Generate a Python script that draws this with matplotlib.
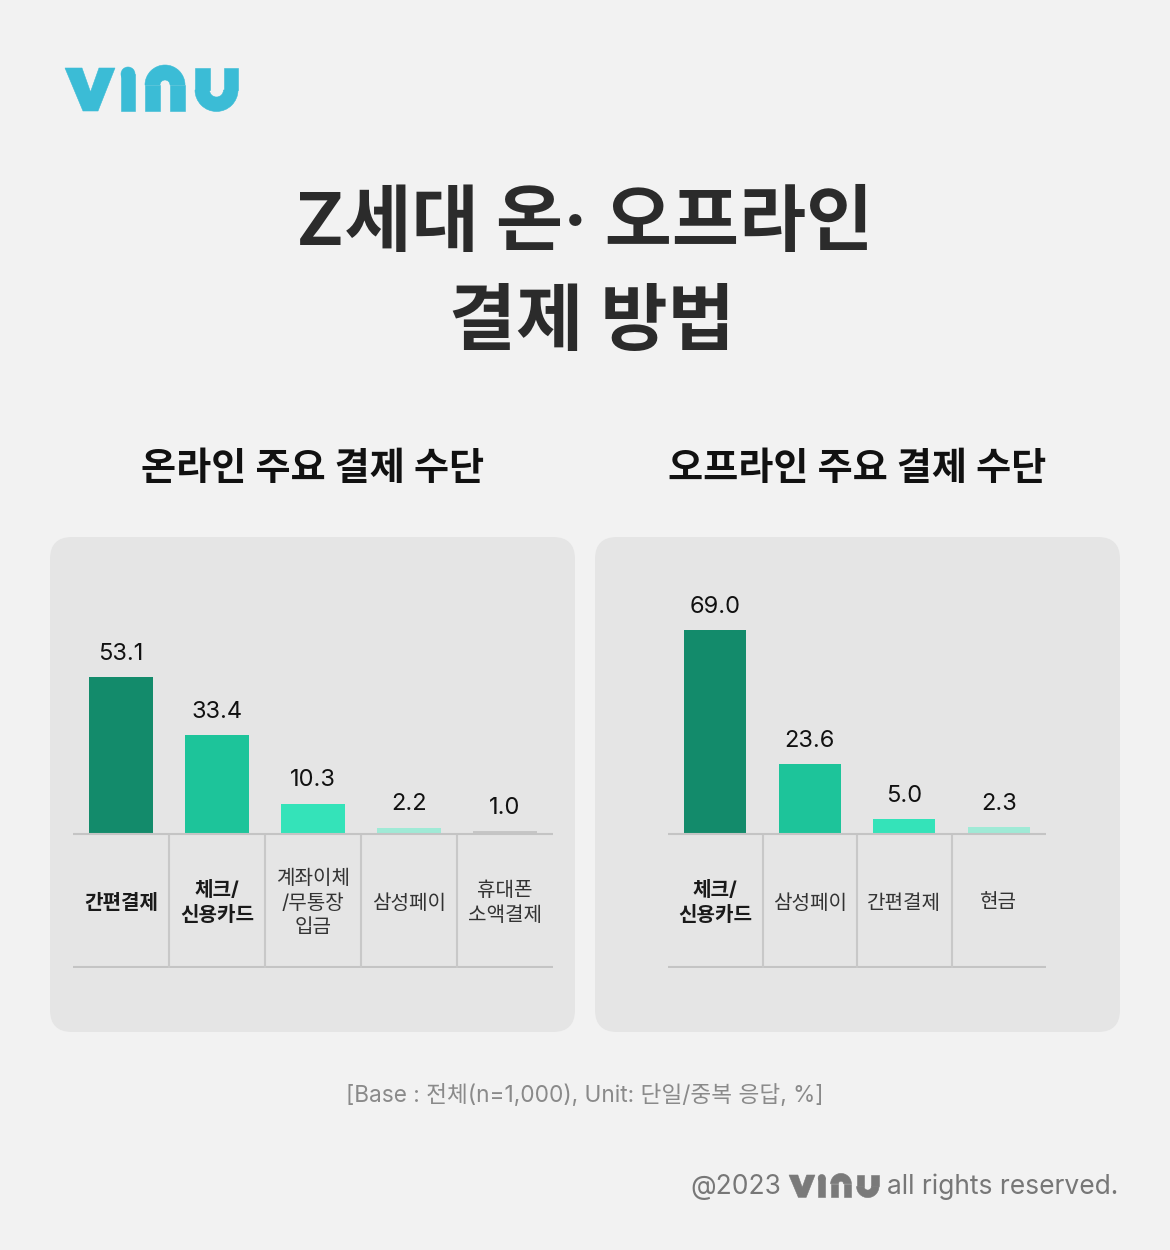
import matplotlib
matplotlib.use('Agg')
import matplotlib.pyplot as plt
from matplotlib.patches import FancyBboxPatch, Polygon, Rectangle, Wedge, Circle

plt.rcParams['font.family'] = ['Inter', 'Noto Sans CJK KR', 'DejaVu Sans']

# ---- data ----
title_lines = ['Z세대 온· 오프라인', '결제 방법']

online_title = '온라인 주요 결제 수단'
online_labels = ['간편결제', '체크/\n신용카드', '계좌이체\n/무통장\n입금', '삼성페이', '휴대폰\n소액결제']
online_values = [53.1, 33.4, 10.3, 2.2, 1.0]
online_bold = [True, True, False, False, False]
online_colors = ['#138b6b', '#1dc49a', '#34e3b9', '#a0ead6', '#c6c6c6']

offline_title = '오프라인 주요 결제 수단'
offline_labels = ['체크/\n신용카드', '삼성페이', '간편결제', '현금']
offline_values = [69.0, 23.6, 5.0, 2.3]
offline_bold = [True, False, False, False]
offline_colors = ['#138b6b', '#1dc49a', '#34e3b9', '#a0ead6']

note = '[Base : 전체(n=1,000), Unit: 단일/중복 응답, %]'
copy_left = '@2023'
copy_right = 'all rights reserved.'

W, H = 1170, 1250
BG = '#f2f2f2'
PANEL = '#e5e5e5'
SCALE = 2.95      # px per percent
BASE_Y = 834      # baseline pixel row
TABLE = 45        # table depth in data units
TOP = 80

fig = plt.figure(figsize=(W / 100, H / 100), dpi=100, facecolor=BG)
bg = fig.add_axes([0, 0, 1, 1])
bg.set_xlim(0, W)
bg.set_ylim(H, 0)
bg.axis('off')


def draw_logo(x0, y0, s, color):
    # wordmark built from simple shapes, unit box ~173 x 43 px
    def P(x, y):
        return (x0 + x * s, y0 + y * s)
    kw = dict(fc=color, ec=color, lw=0.4)
    # v
    bg.add_patch(Polygon([P(0, 0), P(17, 0), P(25.5, 24), P(34, 0), P(50, 0),
                          P(33, 43), P(18, 43)], **kw))
    # dotless i
    bg.add_patch(Rectangle(P(56, 6), 14 * s, 37 * s, **kw))
    bg.add_patch(Circle(P(63, 6), 7 * s, **kw))
    # n
    bg.add_patch(Wedge(P(100, 17), 20 * s, 180, 360, width=15 * s, **kw))
    bg.add_patch(Rectangle(P(80, 17), 15 * s, 26 * s, **kw))
    bg.add_patch(Rectangle(P(105, 17), 15 * s, 26 * s, **kw))
    # u
    bg.add_patch(Wedge(P(151.5, 22), 21.5 * s, 0, 180, width=14.5 * s, **kw))
    bg.add_patch(Rectangle(P(130, 0), 14.5 * s, 22 * s, **kw))
    bg.add_patch(Rectangle(P(158.5, 0), 14.5 * s, 22 * s, **kw))


draw_logo(65, 68, 1.0, '#3bbcd6')

# title
bg.text(585, 226, title_lines[0], fontsize=52.5, fontweight='bold', color='#2b2b2b',
        ha='center', va='center')
bg.text(592, 325, title_lines[1], fontsize=52.5, fontweight='bold', color='#2b2b2b',
        ha='center', va='center')


def panel(x0, x1, ax_l, ax_r, title, labels, values, colors, bold):
    bg.add_patch(FancyBboxPatch((x0, 537), x1 - x0, 495,
                                boxstyle='round,pad=0,rounding_size=22',
                                fc=PANEL, ec='none'))
    bg.text((x0 + x1) / 2, 470, title, fontsize=27.5, fontweight='bold',
            color='#111111', ha='center', va='center')

    bottom_px = BASE_Y + (TABLE + 0.5) * SCALE
    top_px = BASE_Y - TOP * SCALE
    ax = fig.add_axes([ax_l / W, 1 - bottom_px / H, (ax_r - ax_l) / W,
                       (bottom_px - top_px) / H])
    ax.patch.set_alpha(0)
    n = len(values)
    x = list(range(n))
    ax.bar(x, values, width=0.66, color=colors, zorder=2)
    ax.set_xlim(-0.5, n - 0.5)
    ax.set_ylim(-TABLE - 0.5, TOP)
    ax.axis('off')
    ax.axhline(0, color='#c4c4c4', lw=1.5, zorder=3)
    ax.axhline(-TABLE, color='#c4c4c4', lw=1.5)
    for i in range(n - 1):
        ax.plot([i + 0.5, i + 0.5], [-0.8, -TABLE], color='#c8c8c8', lw=1.5)
    for i, (lab, v, b) in enumerate(zip(labels, values, bold)):
        ax.text(i, -TABLE / 2 - 1, lab, ha='center', va='center', fontsize=14.5,
                linespacing=1.4, color='#1a1a1a' if b else '#333333',
                fontweight='bold' if b else 'normal')
        ax.annotate(f'{v:.1f}', (i, v), xytext=(0, 9), textcoords='offset points',
                    ha='center', va='bottom', fontsize=17, color='#111111')


panel(50, 575, 73, 553, online_title, online_labels, online_values,
      online_colors, online_bold)
panel(595, 1120, 668, 1046, offline_title, offline_labels, offline_values,
      offline_colors, offline_bold)

# footnote
bg.text(585, 1096, note, fontsize=16.3, color='#8a8a8a', ha='center', va='center')

# copyright line
bg.text(781, 1194, copy_left, fontsize=19, color='#777777', ha='right', va='baseline')
draw_logo(789, 1175, 0.52, '#7a7a7a')
bg.text(887, 1194, copy_right, fontsize=19, color='#777777', ha='left', va='baseline')

fig.savefig('out.png', dpi=100, facecolor=BG)
